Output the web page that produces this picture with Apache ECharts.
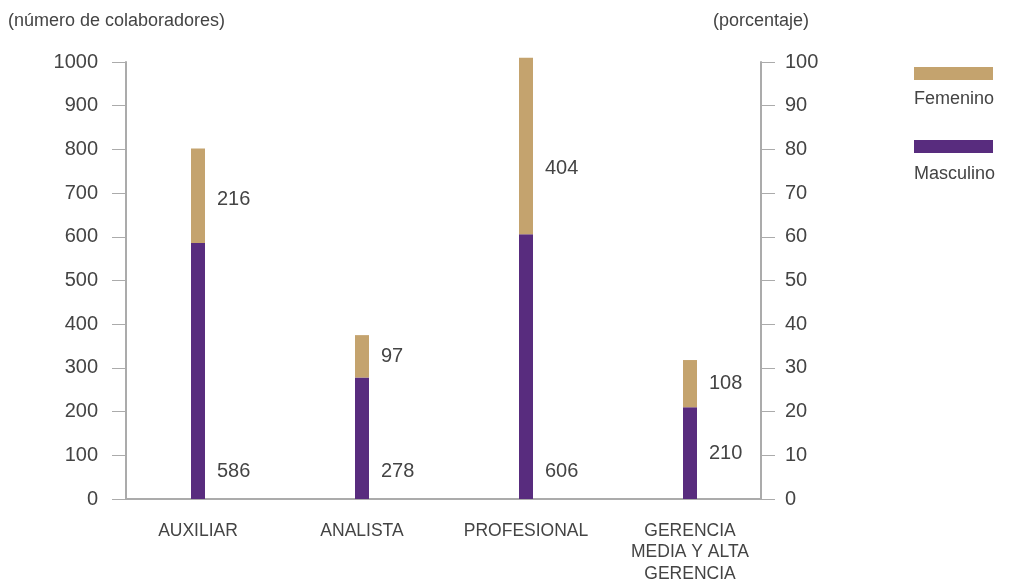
<!DOCTYPE html>
<html>
<head>
<meta charset="utf-8">
<script src="https://cdn.jsdelivr.net/npm/echarts@6/dist/echarts.min.js"></script>
<style>
  html, body { margin: 0; padding: 0; background: #fff; }
  #chart { width: 1012px; height: 581px; }
</style>
</head>
<body>
<div id="chart"></div>
<script>
// Colaboradores por cargo y género
const categories = ['AUXILIAR', 'ANALISTA', 'PROFESIONAL', 'GERENCIA\nMEDIA Y ALTA\nGERENCIA'];
const masculino = [586, 278, 606, 210];
const femenino = [216, 97, 404, 108];
const seriesNames = ['Femenino', 'Masculino'];
const leftAxisName = '(número de colaboradores)';
const rightAxisName = '(porcentaje)';

const COLOR_FEM = '#C4A36E';
const COLOR_MASC = '#582C7E';
const AXIS_COLOR = '#ABABAB';
const TEXT_COLOR = '#444';
const FONT = 'Liberation Sans, Arial, sans-serif';

const chart = echarts.init(document.getElementById('chart'));

const option = {
  animation: false,
  textStyle: { fontFamily: FONT },
  grid: [
    { left: 126, right: 251, top: 62, bottom: 82, outerBoundsMode: 'none', containLabel: false },   // axis frame
    { left: 116, right: 240, top: 62, bottom: 82, outerBoundsMode: 'none', containLabel: false }    // bars
  ],
  xAxis: [
    {
      type: 'category', gridIndex: 0, data: categories,
      axisLine: { lineStyle: { color: AXIS_COLOR, width: 2 } },
      axisTick: { show: false }, axisLabel: { show: false }
    },
    {
      type: 'category', gridIndex: 1, data: categories,
      axisLine: { show: false }, axisTick: { show: false },
      axisLabel: { color: TEXT_COLOR, fontSize: 17.5, lineHeight: 21.5, margin: 21, interval: 0 }
    }
  ],
  yAxis: [
    {
      type: 'value', gridIndex: 0, min: 0, max: 1000, interval: 100,
      axisLine: { show: true, lineStyle: { color: AXIS_COLOR, width: 2 } },
      axisTick: { show: true, length: 14, lineStyle: { color: AXIS_COLOR, width: 1 } },
      axisLabel: { color: TEXT_COLOR, fontSize: 20, margin: 28, formatter: v => String(v) },
      splitLine: { show: false }
    },
    {
      type: 'value', gridIndex: 0, position: 'right', min: 0, max: 100, interval: 10,
      axisLine: { show: true, lineStyle: { color: AXIS_COLOR, width: 2 } },
      axisTick: { show: true, length: 14, lineStyle: { color: AXIS_COLOR, width: 1 } },
      axisLabel: { color: TEXT_COLOR, fontSize: 20, margin: 24, formatter: v => String(v) },
      splitLine: { show: false }
    },
    {
      type: 'value', gridIndex: 1, min: 0, max: 1000, show: false,
      splitLine: { show: false }
    }
  ],
  series: [
    {
      name: seriesNames[1], type: 'bar', stack: 'total',
      xAxisIndex: 1, yAxisIndex: 2, barWidth: 14, clip: false,
      itemStyle: { color: COLOR_MASC },
      label: {
        show: true, position: 'insideBottomLeft', offset: [21, -13],
        color: TEXT_COLOR, fontSize: 20
      },
      data: masculino.map((v, i) => i === 3
        ? { value: v, label: { offset: [21, -31] } }
        : v)
    },
    {
      name: seriesNames[0], type: 'bar', stack: 'total',
      xAxisIndex: 1, yAxisIndex: 2, barWidth: 14, clip: false,
      itemStyle: { color: COLOR_FEM },
      label: {
        show: true, position: 'right', distance: 12,
        color: TEXT_COLOR, fontSize: 20
      },
      data: femenino.map((v, i) => i === 2
        ? { value: v, label: { offset: [0, 23] } }
        : (i === 0 ? { value: v, label: { offset: [0, 4] } } : v))
    }
  ],
  graphic: [
    { type: 'text', left: 8, top: 12, style: { text: leftAxisName, fill: TEXT_COLOR, font: '18px ' + FONT } },
    { type: 'text', left: 713, top: 12, style: { text: rightAxisName, fill: TEXT_COLOR, font: '18px ' + FONT } },
    { type: 'rect', left: 914, top: 67, shape: { width: 79, height: 13 }, style: { fill: COLOR_FEM } },
    { type: 'text', left: 914, top: 90, style: { text: seriesNames[0], fill: TEXT_COLOR, font: '18px ' + FONT } },
    { type: 'rect', left: 914, top: 140, shape: { width: 79, height: 13 }, style: { fill: COLOR_MASC } },
    { type: 'text', left: 914, top: 165, style: { text: seriesNames[1], fill: TEXT_COLOR, font: '18px ' + FONT } }
  ]
};

chart.setOption(option);
</script>
</body>
</html>
